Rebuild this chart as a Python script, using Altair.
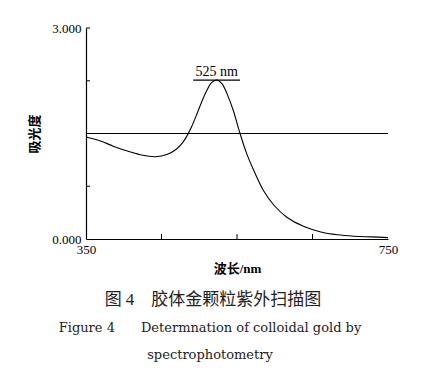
import altair as alt
import pandas as pd

# spectrum (wavelength nm, absorbance)
wavelength = [350, 370, 386, 408, 425, 442, 457, 470, 478, 484, 490, 497, 504, 510, 516, 523,
              530, 537, 545, 554, 563, 572, 585, 599, 616, 638, 661, 683, 705, 728, 750]
absorbance = [1.45, 1.39, 1.32, 1.24, 1.19, 1.17, 1.20, 1.28, 1.37, 1.47, 1.60, 1.78, 1.97, 2.11, 2.22, 2.26,
              2.21, 2.06, 1.83, 1.50, 1.21, 0.98, 0.69, 0.48, 0.31, 0.18, 0.10, 0.06, 0.04, 0.03, 0.02]

baseline_value = [1.5]
peak_label = ["525 nm"]
peak_bar = [492, 554]
peak_value = 2.26
peak_wl = 523

x_ticks_inner = [450, 550, 650]
y_ticks_inner = [0.75, 1.5, 2.25, 3.0]
x_labels = [350, 750]
y_labels = [0.0, 3.0]

caption_cn = "图 4\u3000胶体金颗粒紫外扫描图"
caption_en1 = "Figure 4\u2003\u2003Determnation of colloidal gold by"
caption_en2 = "spectrophotometry"

W, H = 302, 211
SERIF = "Liberation Serif"
WSERIF = "DejaVu Serif"
CJK = "Noto Sans CJK SC"
MIX = "Liberation Serif, Noto Sans CJK SC"

xs = alt.Scale(domain=[350, 750], nice=False, zero=False)
ys = alt.Scale(domain=[0, 3], nice=False)

curve_df = pd.DataFrame({"wl": wavelength, "abs": absorbance})

curve = alt.Chart(curve_df).mark_line(color="black", strokeWidth=1.1, interpolate="catmull-rom").encode(
    x=alt.X("wl:Q", scale=xs,
            axis=alt.Axis(values=x_labels, format="d", ticks=False, grid=False, labelFlush=False,
                          domainColor="black", domainWidth=1.2,
                          labelFont=SERIF, labelFontSize=13, labelColor="black", labelPadding=4,
                          title="波长/nm", titleFont=MIX, titleFontSize=13, titleFontWeight="bold",
                          titleColor="black", titlePadding=6)),
    y=alt.Y("abs:Q", scale=ys,
            axis=alt.Axis(values=y_labels, format=".3f", ticks=False, grid=False, labelFlush=False,
                          domainColor="black", domainWidth=1.2,
                          labelFont=SERIF, labelFontSize=13, labelColor="black", labelPadding=5,
                          title="吸光度", titleFont=CJK, titleFontSize=13, titleFontWeight="bold",
                          titleColor="black", titlePadding=10)),
)

hline = alt.Chart(pd.DataFrame({"v": baseline_value, "a": [350], "b": [750]})).mark_rule(
    color="black", strokeWidth=1).encode(
    y=alt.Y("v:Q", scale=ys), x=alt.X("a:Q", scale=xs), x2="b:Q")

bar = alt.Chart(pd.DataFrame({"a": [peak_bar[0]], "b": [peak_bar[1]], "v": [peak_value]})).mark_rule(
    color="black", strokeWidth=1.2).encode(
    y=alt.Y("v:Q", scale=ys), x=alt.X("a:Q", scale=xs), x2="b:Q")

label = alt.Chart(pd.DataFrame({"wl": [peak_wl], "v": [peak_value], "t": peak_label})).mark_text(
    font=SERIF, fontSize=14, color="black", baseline="bottom", dy=-1).encode(
    x=alt.X("wl:Q", scale=xs), y=alt.Y("v:Q", scale=ys), text="t:N")

xt = alt.Chart(pd.DataFrame({"t": x_ticks_inner})).mark_rule(color="black", strokeWidth=1).encode(
    x=alt.X("t:Q", scale=xs), y=alt.value(H), y2=alt.value(H - 5))

yt = alt.Chart(pd.DataFrame({"t": y_ticks_inner})).mark_rule(color="black", strokeWidth=1).encode(
    y=alt.Y("t:Q", scale=ys), x=alt.value(0), x2=alt.value(4))

cap1 = alt.Chart(pd.DataFrame({"t": [caption_cn]})).mark_text(
    font=MIX, fontSize=17, color="#222222", align="center", baseline="middle").encode(
    x=alt.value(127), y=alt.value(H + 61), text="t:N")

cap2 = alt.Chart(pd.DataFrame({"t": [caption_en1]})).mark_text(
    font=WSERIF, fontSize=13, color="#222222", align="center", baseline="middle").encode(
    x=alt.value(124), y=alt.value(H + 89), text="t:N")

cap3 = alt.Chart(pd.DataFrame({"t": [caption_en2]})).mark_text(
    font=WSERIF, fontSize=13, color="#222222", align="center", baseline="middle").encode(
    x=alt.value(124), y=alt.value(H + 116), text="t:N")

chart = alt.layer(hline, curve, bar, label, xt, yt, cap1, cap2, cap3).properties(
    width=W, height=H,
    autosize=alt.AutoSizeParams(type="none"),
    padding={"left": 78, "top": 20, "right": 30, "bottom": 125},
    background="white",
).configure_view(stroke=None)

chart.save("out.html", embed_options={"renderer": "svg", "actions": False})
